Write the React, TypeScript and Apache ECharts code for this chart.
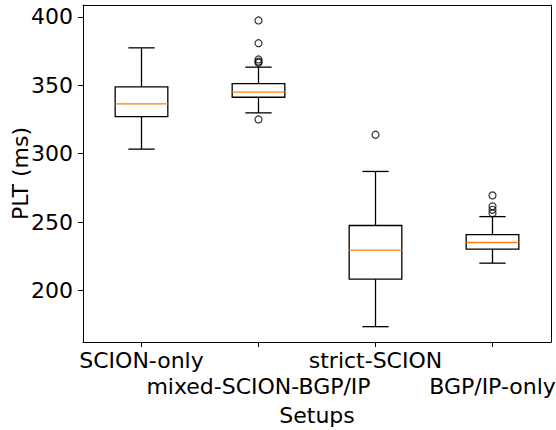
import React, { useEffect, useRef } from "react";
import * as echarts from "echarts";

const categories = ["SCION-only", "mixed-SCION-BGP/IP", "strict-SCION", "BGP/IP-only"];
const lowWhisker = [303.3, 329.8, 173.6, 220.0];
const q1 = [327.1, 341.2, 208.3, 230.3];
const median = [336.4, 344.9, 229.5, 235.1];
const q3 = [348.8, 351.2, 247.5, 240.8];
const highWhisker = [377.3, 363.2, 287.0, 254.0];
const outliersMixed = [325.0, 366.4, 367.3, 368.8, 380.7, 397.3];
const outliersStrict = [313.8];
const outliersBgp = [256.5, 259.0, 261.5, 269.5];
const yTicks = [200, 250, 300, 350, 400];
const yMin = 162.4;
const yMax = 408.6;

const FONT = "DejaVu Sans";
const FS = 22;

export default function App() {
  const ref = useRef<HTMLDivElement>(null);
  useEffect(() => {
    if (!ref.current) return;
    const chart = echarts.init(ref.current, undefined, { renderer: "svg" });
    const boxData = categories.map((_, i) => [i, lowWhisker[i], q1[i], median[i], q3[i], highWhisker[i]]);
    const outlierData: number[][] = [];
    outliersMixed.forEach((v) => outlierData.push([1, v]));
    outliersStrict.forEach((v) => outlierData.push([2, v]));
    outliersBgp.forEach((v) => outlierData.push([3, v]));
    const lw = 1.3;
    const option: any = {
      animation: false,
      backgroundColor: "#fff",
      grid: { left: 83, right: 5, top: 5, bottom: 88, containLabel: false, outerBoundsMode: "none" },
      xAxis: [
        {
          type: "category",
          data: categories,
          boundaryGap: true,
          name: "Setups",
          nameLocation: "middle",
          nameGap: 62,
          nameMoveOverlap: false,
          nameTextStyle: { fontFamily: FONT, fontSize: FS, color: "#000" },
          axisLine: { show: true, lineStyle: { color: "#000", width: 1 } },
          axisTick: { show: true, alignWithLabel: true, length: 5, lineStyle: { color: "#000", width: 1 } },
          axisLabel: {
            interval: 0,
            margin: 5,
            fontFamily: FONT,
            fontSize: FS,
            color: "#000",
            lineHeight: 26,
            hideOverlap: false,
            formatter: (v: string, i: number) => (i % 2 === 1 ? "\n" + v : v),
          },
          splitLine: { show: false },
        },
        {
          type: "category",
          data: categories,
          position: "top",
          axisLine: { show: true, lineStyle: { color: "#000", width: 1 } },
          axisTick: { show: false },
          axisLabel: { show: false },
          splitLine: { show: false },
        },
      ],
      yAxis: [
        {
          type: "value",
          min: yMin,
          max: yMax,
          name: "PLT (ms)",
          nameLocation: "middle",
          nameGap: 52,
          nameMoveOverlap: false,
          nameTextStyle: { fontFamily: FONT, fontSize: FS, color: "#000" },
          axisLine: { show: true, lineStyle: { color: "#000", width: 1 } },
          axisTick: { show: true, length: 5, customValues: yTicks, lineStyle: { color: "#000", width: 1 } },
          axisLabel: { customValues: yTicks, margin: 10, fontFamily: FONT, fontSize: FS, color: "#000" },
          splitLine: { show: false },
        },
        {
          type: "value",
          min: yMin,
          max: yMax,
          position: "right",
          axisLine: { show: true, lineStyle: { color: "#000", width: 1 } },
          axisTick: { show: false },
          axisLabel: { show: false },
          splitLine: { show: false },
        },
      ],
      series: [
        {
          type: "custom",
          xAxisIndex: 0,
          yAxisIndex: 0,
          data: boxData,
          encode: { x: 0, y: [1, 2, 3, 4, 5] },
          renderItem: (params: any, api: any) => {
            const i = api.value(0);
            const lo = api.coord([i, api.value(1)]);
            const b1 = api.coord([i, api.value(2)]);
            const md = api.coord([i, api.value(3)]);
            const b3 = api.coord([i, api.value(4)]);
            const hi = api.coord([i, api.value(5)]);
            const band = api.size([1, 0])[0];
            const bw = band * 0.45;
            const cw = bw / 2;
            const cx = lo[0];
            const st = { stroke: "#000", lineWidth: lw, fill: "none" };
            return {
              type: "group",
              children: [
                { type: "line", shape: { x1: cx, y1: b1[1], x2: cx, y2: lo[1] }, style: st },
                { type: "line", shape: { x1: cx, y1: b3[1], x2: cx, y2: hi[1] }, style: st },
                { type: "line", shape: { x1: cx - cw / 2, y1: lo[1], x2: cx + cw / 2, y2: lo[1] }, style: st },
                { type: "line", shape: { x1: cx - cw / 2, y1: hi[1], x2: cx + cw / 2, y2: hi[1] }, style: st },
                { type: "rect", shape: { x: cx - bw / 2, y: b3[1], width: bw, height: b1[1] - b3[1] }, style: st },
                { type: "line", shape: { x1: cx - bw / 2, y1: md[1], x2: cx + bw / 2, y2: md[1] }, style: { stroke: "#ff7f0e", lineWidth: lw } },
              ],
            };
          },
        },
        {
          type: "scatter",
          xAxisIndex: 0,
          yAxisIndex: 0,
          data: outlierData,
          symbol: "circle",
          symbolSize: 7,
          itemStyle: { color: "rgba(0,0,0,0)", borderColor: "#000", borderWidth: 1.2 },
        },
      ],
    };
    chart.setOption(option);
    return () => chart.dispose();
  }, []);
  return <div ref={ref} style={{ position: "fixed", left: 0, top: 0, width: 556, height: 430 }} />;
}
